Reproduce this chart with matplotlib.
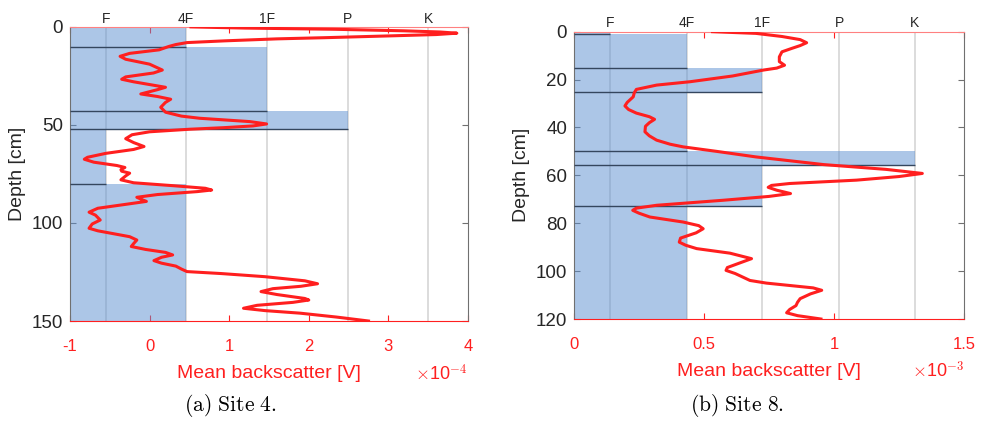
import numpy as np
import matplotlib.pyplot as plt

plt.rcParams["font.family"] = ["Liberation Sans", "DejaVu Sans"]
plt.rcParams["axes.unicode_minus"] = False
plt.rcParams["mathtext.fontset"] = "cm"

# hardness categories (top axis)
hard_labels = ["F", "4F", "1F", "P", "K"]

# ---- site 4: backscatter in units of 1e-4 V ----
s4_hard_pos = [-0.55, 0.46, 1.47, 2.49, 3.50]
s4_layer_top = [0, 10, 43, 52, 80]
s4_layer_bot = [10, 43, 52, 80, 150]
s4_layer_hard = [1, 2, 3, 0, 1]          # index into hard_labels
s4_depth = [0, 0.6, 1.2, 2.0, 2.6, 3.2, 3.9, 4.6, 5.5, 6.1, 7.1, 8.0, 9.0, 10,
            11.7, 13.5, 15, 16.5, 19, 22, 23.5, 25.5, 26.7, 28, 30.8, 32, 34.2,
            35.5, 36.9, 38.5, 41, 43.5, 45.5, 46.6, 48.3, 49.5, 50.5, 51.4,
            52.2, 53.5, 55, 57, 59, 61, 62.5, 64.5, 66.5, 67.5, 69, 70.7, 71.7,
            72.8, 73.6, 74.6, 76, 78, 79.5, 81, 82.3, 83.2, 84, 85.5, 86.9, 88,
            89, 90.5, 92.5, 94.5, 96, 98.5, 100.5, 102.7, 104, 105.5, 107,
            108.7, 110.5, 112, 113.5, 115, 116.3, 117.5, 119.2, 120.5, 122,
            123.5, 124.8, 125.8, 127.4, 129.5, 131, 132.3, 133.5, 135, 136.5,
            138.5, 139.3, 140.5, 142, 143.5, 144.7, 146, 148, 150]
s4_bs = [0.52, 1.2, 2.31, 3.2, 3.65, 3.86, 3.6, 3.0, 2.2, 1.6, 0.95, 0.47, 0.33,
         0.24, 0.12, -0.25, -0.37, -0.3, 0.0, 0.16, 0.05, -0.3, -0.35, -0.2,
         0.2, 0.1, -0.11, 0.1, 0.265, 0.2, 0.14, 0.2, 0.4, 0.63, 1.26, 1.47,
         1.3, 0.93, 0.5, 0.0, -0.22, -0.3, -0.2, -0.07, -0.2, -0.55, -0.78,
         -0.82, -0.7, -0.41, -0.31, -0.36, -0.35, -0.25, -0.3, -0.36, -0.2,
         0.3, 0.7, 0.78, 0.6, 0.1, -0.16, -0.1, -0.04, -0.3, -0.65, -0.76,
         -0.68, -0.62, -0.72, -0.76, -0.65, -0.45, -0.25, -0.16, -0.2, -0.23,
         -0.05, 0.2, 0.29, 0.15, 0.055, 0.15, 0.33, 0.4, 0.47, 0.9, 1.45, 1.95,
         2.11, 1.9, 1.55, 1.40, 1.6, 1.95, 2.0, 1.8, 1.35, 1.18, 1.45, 1.89,
         2.35, 2.75]

# ---- site 8: backscatter in units of 1e-3 V ----
s8_hard_pos = [0.138, 0.435, 0.723, 1.02, 1.31]
s8_layer_top = [0, 1, 15, 25, 50, 55.5, 73]
s8_layer_bot = [1, 15, 25, 50, 55.5, 73, 120]
s8_layer_hard = [0, 1, 2, 1, 4, 2, 1]
s8_depth = [0, 0.7, 2.0, 3.3, 4.6, 5.8, 7, 8.4, 10.5, 12.5, 14, 15.2, 16, 18.5,
            20.9, 22.3, 24.1, 25.5, 27.2, 29.5, 31, 32.5, 34, 35.5, 36.6, 38,
            39.5, 41.8, 43.5, 45.3, 47, 48.1, 50, 52.3, 55.5, 57.5, 59.2, 60.5,
            62, 63.4, 64.2, 65, 66.2, 67.6, 68.8, 70.4, 72.5, 73.7, 74.6, 75.8,
            77.4, 79.5, 81, 82.3, 84, 86.2, 87.9, 89.2, 90.6, 92.5, 94.8, 96.5,
            98.5, 99.7, 101, 103.9, 105, 106, 107, 108, 109.5, 111.5, 113,
            114.4, 116, 117.4, 118.6, 120]
s8_bs = [0.533, 0.70, 0.80, 0.87, 0.895, 0.87, 0.837, 0.80, 0.79, 0.79, 0.81,
         0.78, 0.73, 0.61, 0.446, 0.318, 0.24, 0.232, 0.228, 0.205, 0.196,
         0.21, 0.24, 0.29, 0.31, 0.29, 0.275, 0.273, 0.29, 0.318, 0.37, 0.42,
         0.55, 0.70, 0.96, 1.2, 1.34, 1.25, 1.087, 0.83, 0.76, 0.747, 0.78,
         0.833, 0.75, 0.574, 0.318, 0.24, 0.226, 0.25, 0.292, 0.42, 0.48,
         0.497, 0.47, 0.41, 0.405, 0.43, 0.472, 0.6, 0.683, 0.64, 0.59, 0.585,
         0.62, 0.677, 0.74, 0.83, 0.92, 0.953, 0.91, 0.87, 0.86, 0.854, 0.83,
         0.818, 0.86, 0.95]

RED = "#ff1f1f"
BLUE = "#5b8fd1"
GRAY = "#707070"
TXT = "#262626"


def draw_site(ax, hard_pos, tops, bots, hard, depth, bs, xlim, xticks, ylim,
              yticks, power, caption, cap_x):
    x0 = xlim[0]
    # vertical grid at hardness positions (below the layers)
    for p in hard_pos:
        ax.axvline(p, color="#d6d6d6", lw=1.2, zorder=1)
    # hardness layers
    tops = np.array(tops)
    bots = np.array(bots)
    ext = np.array([hard_pos[h] for h in hard])
    ax.barh(tops, ext - x0, height=bots - tops, left=x0, align="edge",
            color=BLUE, alpha=0.5, lw=0, zorder=2)
    ax.hlines(bots[:-1], x0, ext[:-1], color="#34465e", lw=1.0, zorder=3)
    # backscatter profile
    ax.plot(bs, depth, color=RED, lw=2.2, zorder=4, solid_joinstyle="round")

    ax.set_xlim(*xlim)
    ax.set_ylim(ylim[1], ylim[0])
    ax.set_xticks(xticks)
    ax.set_xticklabels(["%g" % t for t in xticks])
    ax.set_yticks(yticks)
    ax.tick_params(axis="x", which="both", top=True, direction="in",
                   colors=RED, labelsize=12, pad=13, length=4)
    ax.tick_params(axis="y", which="both", right=True, direction="in",
                   colors=GRAY, labelcolor=TXT, labelsize=13.5, pad=5, length=4)
    for s in ("left", "right"):
        ax.spines[s].set_color(GRAY)
    ax.spines["bottom"].set_color(RED)
    ax.spines["top"].set_color("#ff8080")
    ax.set_xlabel("Mean backscatter [V]", color=RED, fontsize=14, labelpad=8)
    ax.set_ylabel("Depth [cm]", color=TXT, fontsize=14, labelpad=4)
    ax.text(1.0, -0.18, r"$\times$10$^{-%d}$" % power, transform=ax.transAxes,
            ha="right", va="center", color=RED, fontsize=13)

    top = ax.secondary_xaxis("top")
    top.set_xticks(hard_pos)
    top.set_xticklabels(hard_labels)
    top.tick_params(length=0, pad=1, labelsize=10, colors=TXT)
    top.spines["top"].set_visible(False)

    ax.figure.text(cap_x, 0.047, caption, ha="center", va="center",
                   fontsize=15.5)


fig = plt.figure(figsize=(9.84, 4.25), dpi=100)
ax1 = fig.add_axes([0.0711, 0.2447, 0.4045, 0.692])
ax2 = fig.add_axes([0.5833, 0.2494, 0.3963, 0.676])

draw_site(ax1, s4_hard_pos, s4_layer_top, s4_layer_bot, s4_layer_hard,
          s4_depth, s4_bs, (-1, 4), [-1, 0, 1, 2, 3, 4], (0, 150),
          [0, 50, 100, 150], 4, r"$\mathrm{(a)\ Site\ 4.}$", 0.234)
draw_site(ax2, s8_hard_pos, s8_layer_top, s8_layer_bot, s8_layer_hard,
          s8_depth, s8_bs, (0, 1.5), [0, 0.5, 1, 1.5], (0, 120),
          [0, 20, 40, 60, 80, 100, 120], 3, r"$\mathrm{(b)\ Site\ 8.}$", 0.749)

fig.savefig("out.png", dpi=100)
